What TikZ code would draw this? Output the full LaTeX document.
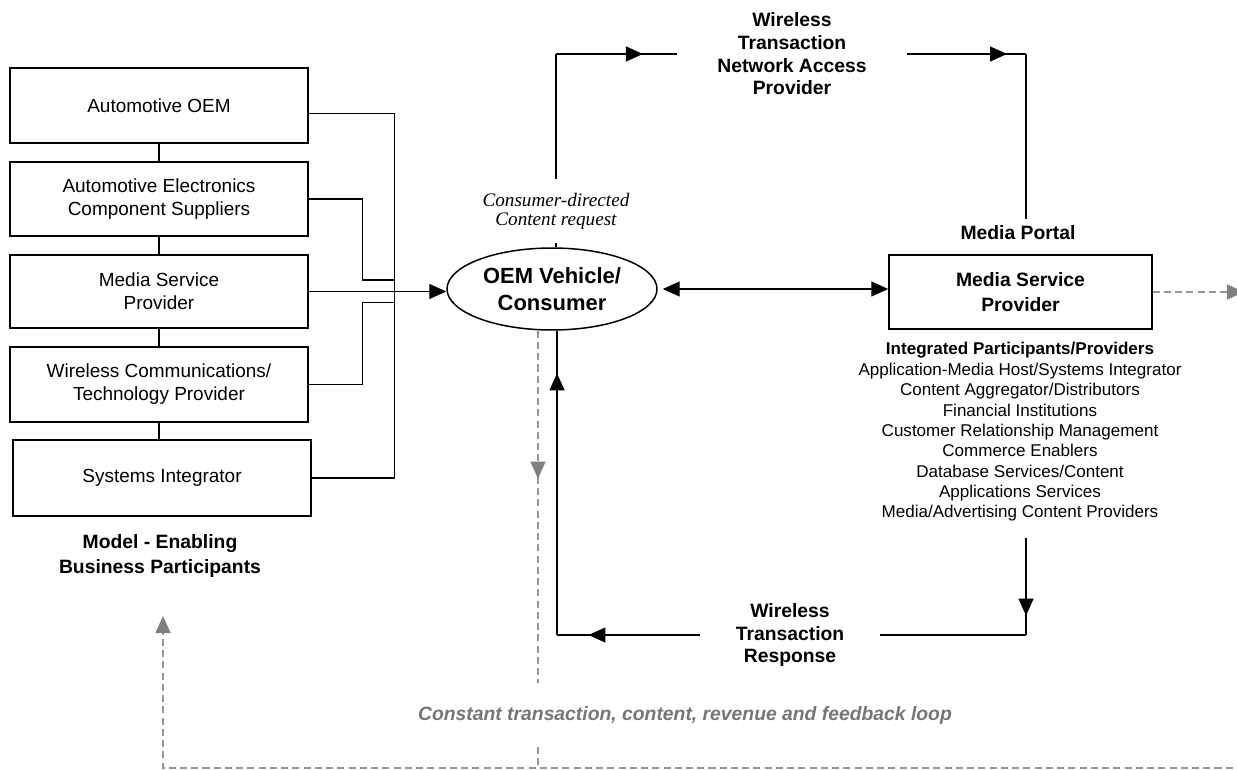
\documentclass[tikz,border=0pt]{standalone}
\usepackage{fontspec}
\setmainfont{Liberation Sans}
\newfontfamily\serifit{Liberation Serif}
\usetikzlibrary{arrows.meta,decorations.markings,calc,shapes.geometric}

\definecolor{loopgray}{RGB}{150,150,150}
\definecolor{tipgray}{RGB}{128,128,128}
\definecolor{textgray}{RGB}{118,118,118}

\begin{document}
\begin{tikzpicture}[x=0.02cm,y=-0.02cm,
  line width=0.75pt,
  arr/.style={-{Triangle[length=0.34cm,width=0.3cm]}},
  midarr/.style={postaction={decorate},
    decoration={markings, mark=at position #1 with {\arrow{Triangle[length=0.34cm,width=0.3cm]}}}},
  gmidarr/.style={postaction={decorate},
    decoration={markings, mark=at position #1 with {\arrow{Triangle[length=0.34cm,width=0.3cm,color=tipgray]}}}},
  loopline/.style={draw=loopgray, dash pattern=on 4pt off 2.4pt},
  partbox/.style={draw, line width=0.85pt, minimum width=5.96cm, inner sep=0pt,
    align=center, font=\fontsize{10.8}{13}\selectfont},
  boldlbl/.style={align=center, font=\fontsize{11}{12.9}\selectfont\bfseries},
]
\useasboundingbox (0,0) rectangle (1237,770);

% Participants column
\node[partbox, minimum height=1.5cm]  (b1) at (159,105.5) {Automotive OEM};
\node[partbox, minimum height=1.48cm] (b2) at (159,199)   {Automotive Electronics\\Component Suppliers};
\node[partbox, minimum height=1.46cm] (b3) at (159,291.5) {Media Service\\Provider};
\node[partbox, minimum height=1.5cm]  (b4) at (159,384.5) {Wireless Communications/\\Technology Provider};
\node[partbox, minimum height=1.52cm] (b5) at (162,478)   {Systems Integrator};
\node[boldlbl, font=\fontsize{11}{14}\selectfont\bfseries] (model) at (160,556) {Model - Enabling\\Business Participants};

\draw (b1.south) -- (b1.south |- b2.north);
\draw (b2.south) -- (b2.south |- b3.north);
\draw (b3.south) -- (b3.south |- b4.north);
\draw (b4.south) -- (b4.south |- b5.north);

% Consumer
\node[draw, ellipse, line width=0.85pt, minimum width=4.2cm, minimum height=1.64cm, inner sep=0pt,
  align=center, font=\fontsize{12.5}{15}\selectfont\bfseries] (ell) at (552,289) {OEM Vehicle/\\Consumer};

% Bus from the participants to the consumer
\draw ($(b1.east)+(0,8)$) -| ($(b5.east)+(83,0)$) -- (b5.east);
\draw (b2.east) -| ($(b2.east)+(54,81)$) -- ($(b2.east)+(86,81)$);
\draw (b4.east) -| ($(b4.east)+(54,-82)$) -- ($(b4.east)+(86,-82)$);
\draw[arr] (b3.east) -- (b3.east -| ell.west);

% Content request to the network access provider
\node[inner xsep=0pt, inner ysep=0.27cm, align=center,
  font=\fontsize{10.9}{10.8}\serifit\itshape] (req) at (556,211) {Consumer-directed\\Content request};
\node[boldlbl, inner xsep=0.8cm, inner ysep=0pt] (wtn) at (792,54) {Wireless\\Transaction\\Network Access\\Provider};
\node[boldlbl] (mp) at (1018,233) {Media Portal};
\coordinate (tr) at (1026,54);

\draw (ell.north -| req.south) -- (req.south);
\draw (req.north) -- (req.north |- wtn.west) coordinate (tl);
\draw[midarr=0.72] (tl) -- (wtn.west);
\draw[midarr=0.84] (wtn.east) -- (tr);
\draw (tr) -- (tr |- mp.north);

% Media service provider
\node[draw, line width=0.85pt, minimum width=5.26cm, minimum height=1.48cm, align=center,
  font=\fontsize{11}{14}\selectfont\bfseries] (msp) at (1020.5,292) {Media Service\\Provider};
\draw[{Triangle[length=0.34cm,width=0.3cm]}-{Triangle[length=0.34cm,width=0.3cm]}]
  ($(ell.east)+(5,0)$) -- (ell.east -| msp.west);
\coordinate (outR) at (1244,292);
\draw[loopline, -{Triangle[length=0.34cm,width=0.3cm,color=tipgray]}] (msp.east) -- (outR);

\node[align=center, inner sep=0pt, font=\fontsize{9.7}{11.6}\selectfont] (list) at (1020,432)
  {\textbf{Integrated Participants/Providers}\\
   Application-Media Host/Systems Integrator\\
   Content Aggregator/Distributors\\
   Financial Institutions\\
   Customer Relationship Management\\
   Commerce Enablers\\
   Database Services/Content\\
   Applications Services\\
   Media/Advertising Content Providers};

% Response back to the consumer
\node[boldlbl, inner xsep=0.7cm] (resp) at (790,635) {Wireless\\Transaction\\Response};
\coordinate (lo) at (1026,538);
\coordinate (br) at (1026,635);
\coordinate (bl) at (557,635);
\draw[midarr=0.8] (lo) -- (br);
\draw (br) -- (resp.east);
\draw[midarr=0.78] (resp.west) -- (bl);
\draw[midarr=0.86] (bl) -- ($(ell.south)+(5,0)$);

% Feedback loop
\node[inner xsep=0pt, inner ysep=0.45cm, text=textgray,
  font=\fontsize{11}{13}\selectfont\bfseries\itshape] (loop) at (685,715)
  {Constant transaction, content, revenue and feedback loop};
\draw[loopline, gmidarr=0.42] ($(ell.south)+(-14,0)$) coordinate (g0) -- (g0 |- loop.north);
\coordinate (fbB) at (538,768);
\coordinate (fbR) at (1244,768);
\coordinate (fbTip) at (163,616);
\draw[loopline] (g0 |- loop.south) -- (fbB);
\draw[loopline, -{Triangle[length=0.34cm,width=0.3cm,color=tipgray]}] (fbR) -| (fbTip);
\end{tikzpicture}
\end{document}
